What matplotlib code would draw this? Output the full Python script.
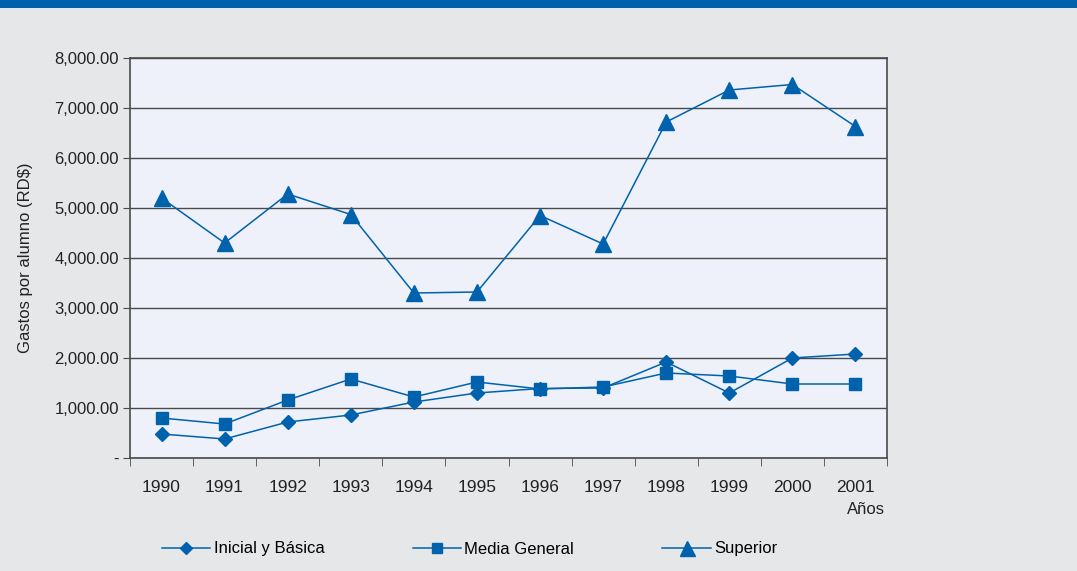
import matplotlib
matplotlib.use("Agg")
import matplotlib.pyplot as plt
import matplotlib.patches as patches
import numpy as np

plt.rcParams['font.family'] = ['Liberation Sans Narrow', 'Liberation Sans', 'DejaVu Sans']

# datos
anios = ['1990', '1991', '1992', '1993', '1994', '1995', '1996', '1997', '1998', '1999', '2000', '2001']
inicial_basica = [480, 380, 720, 860, 1120, 1300, 1390, 1400, 1920, 1300, 2000, 2080]
media_general = [800, 680, 1160, 1580, 1220, 1520, 1380, 1420, 1700, 1640, 1480, 1480]
superior = [5200, 4300, 5280, 4870, 3300, 3320, 4850, 4280, 6720, 7360, 7470, 6630]
y_ticks = [0, 1000, 2000, 3000, 4000, 5000, 6000, 7000, 8000]
y_labels = ['-', '1,000.00', '2,000.00', '3,000.00', '4,000.00', '5,000.00', '6,000.00', '7,000.00', '8,000.00']

azul = '#0062ac'
fondo = '#e6e7e9'
fondo_ejes = '#eef1f9'
gris = '#4a4a4a'

fig = plt.figure(figsize=(10.77, 5.71), dpi=100, facecolor=fondo)
ax = fig.add_axes([130 / 1077, 1 - 458 / 571, 757 / 1077, 400 / 571])
ax.set_facecolor(fondo_ejes)

# franja azul superior
fig.patches.append(patches.Rectangle((0, 1 - 8 / 571), 1, 8 / 571, transform=fig.transFigure,
                                     facecolor=azul, edgecolor='none'))

x = np.arange(len(anios))
ax.plot(x, inicial_basica, color=azul, lw=1.1, marker='D', ms=7, label='Inicial y Básica')
ax.plot(x, media_general, color=azul, lw=1.1, marker='s', ms=8, label='Media General')
ax.plot(x, superior, color=azul, lw=1.1, marker='^', ms=12, label='Superior')

ax.set_xlim(-0.5, len(anios) - 0.5)
ax.set_ylim(0, 8000)
ax.set_yticks(y_ticks)
ax.set_yticklabels(y_labels)
ax.yaxis.grid(True, color=gris, lw=1)
ax.set_axisbelow(True)

ax.set_xticks(x)
ax.set_xticklabels(anios)
ax.set_xticks(np.arange(-0.5, len(anios)), minor=True)
ax.tick_params(axis='x', which='major', length=0, pad=16, labelsize=12.5, colors='#222222')
ax.tick_params(axis='x', which='minor', length=6, direction='out', color=gris)
ax.tick_params(axis='y', length=5, direction='out', color=gris, labelsize=12, labelcolor='#222222', pad=3)

for s in ax.spines.values():
    s.set_color(gris)
    s.set_linewidth(1.2)

ax.set_ylabel('Gastos por alumno (RD$)', fontsize=12, color='#222222', labelpad=15)
fig.text(885 / 1077, 1 - 510 / 571, 'Años', ha='right', va='center', fontsize=12, color='#222222')

fig.legend(loc='center', bbox_to_anchor=(0.436, 1 - 549 / 571), ncol=3, frameon=False,
           fontsize=12, handlelength=2.9, columnspacing=5.3, handletextpad=0.2, markerscale=0.9)

plt.savefig('out.png', dpi=100, facecolor=fondo)
